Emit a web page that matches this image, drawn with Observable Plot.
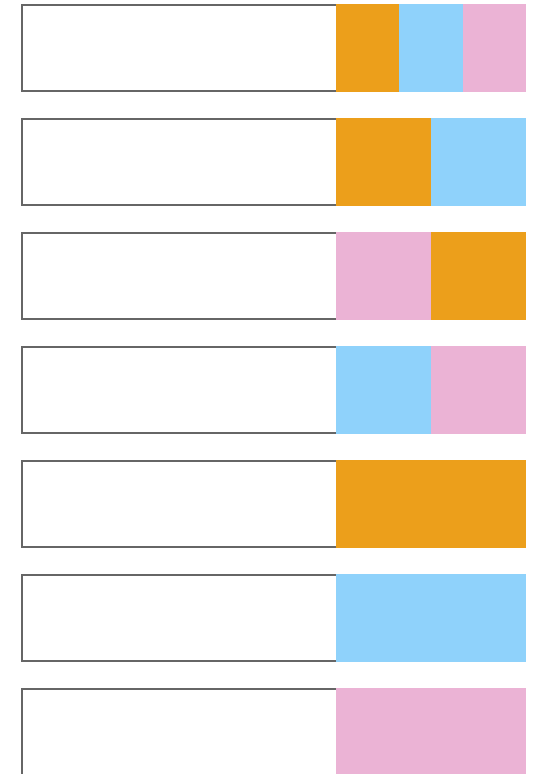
<!DOCTYPE html>
<html>
<head>
<meta charset="utf-8">
<script src="https://cdn.jsdelivr.net/npm/d3@7"></script>
<script src="https://cdn.jsdelivr.net/npm/@observablehq/plot@0.6"></script>
<style>
  html, body { margin: 0; padding: 0; background: #fff; }
  svg { display: block; }
</style>
</head>
<body>
<div id="chart"></div>
<script>
// Data
const sets = ["A", "B", "C"];
const setColors = ["#EC9F1B", "#8FD2FB", "#EBB3D5"];
const rows = ["r1", "r2", "r3", "r4", "r5", "r6", "r7"];
const members = [
  ["A", "B", "C"],
  ["A", "B"],
  ["C", "A"],
  ["B", "C"],
  ["A"],
  ["B"],
  ["C"]
];

// Layout (in x-scale units): white frame then colored membership band
const frameEnd = 314;
const totalEnd = 504;

const segments = [];
rows.forEach((r, i) => {
  const m = members[i];
  const w = (totalEnd - frameEnd) / m.length;
  m.forEach((s, j) => {
    segments.push({row: r, set: s, x1: frameEnd + j * w, x2: frameEnd + (j + 1) * w});
  });
});

const chart = Plot.plot({
  width: 534,
  height: 776,
  marginTop: 4,
  marginBottom: 0,
  marginLeft: 22,
  marginRight: 8,
  x: {domain: [0, totalEnd], axis: null},
  y: {domain: rows, axis: null, paddingInner: 26 / 114, paddingOuter: 0},
  color: {domain: sets, range: setColors},
  marks: [
    Plot.barX(rows, {x1: 0, x2: frameEnd + 6, y: d => d, fill: "white", stroke: "#666", strokeWidth: 2,
      insetTop: 1, insetBottom: 1}),
    Plot.barX(segments, {x1: "x1", x2: "x2", y: "row", fill: "set", shapeRendering: "crispEdges"})
  ]
});
document.getElementById("chart").appendChild(chart);
</script>
</body>
</html>
